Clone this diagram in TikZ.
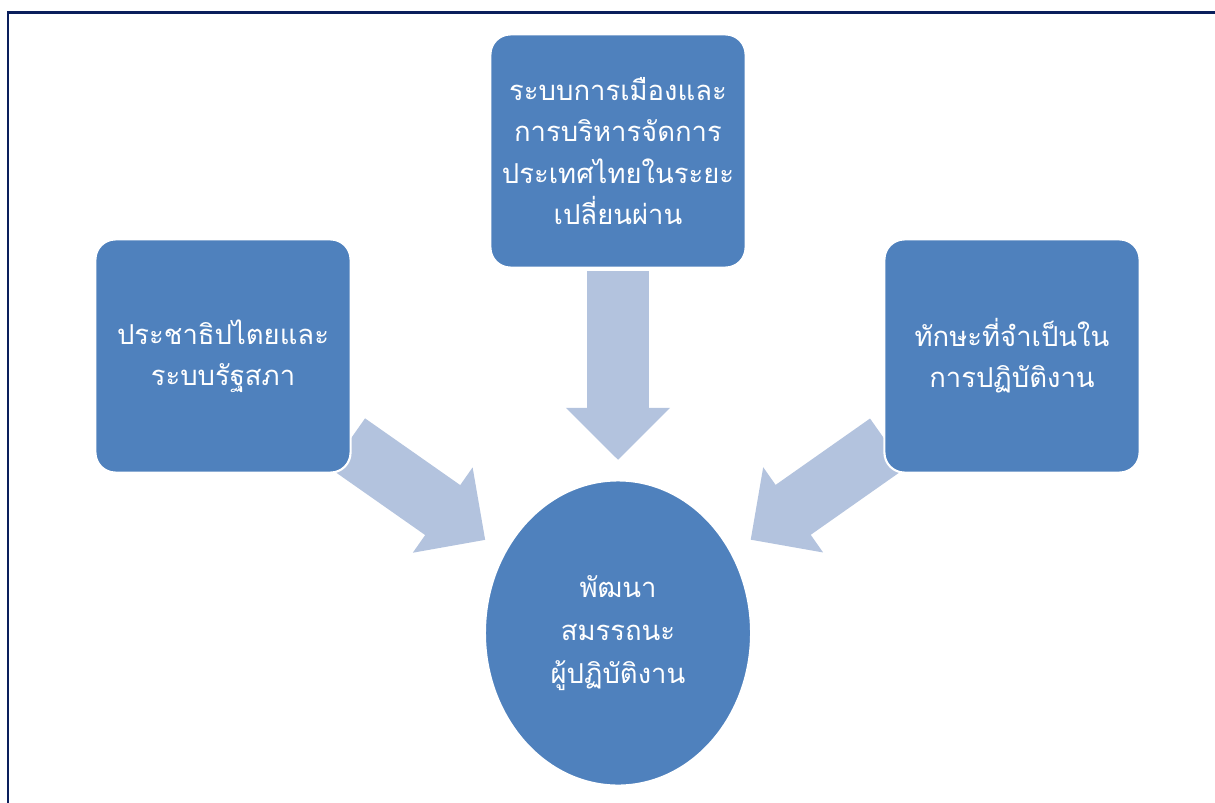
\documentclass[tikz,border=0pt]{standalone}
\usepackage{fontspec}
\newfontfamily\thaifont[Script=Thai]{Loma}
\usepackage{tikz}
\usetikzlibrary{arrows.meta,shapes.geometric,backgrounds}
\definecolor{boxblue}{HTML}{4F81BD}
\definecolor{arrowblue}{HTML}{B3C3DE}
\definecolor{framenavy}{HTML}{0A1F5C}

\begin{document}
\begin{tikzpicture}[x=0.01cm,y=-0.01cm,
   topic/.style={rectangle,rounded corners=0.2cm,draw=white,line width=0.6pt,
    fill=boxblue,text=white,minimum width=2.55cm,minimum height=2.33cm,
    align=center,inner sep=+0.1cm,
    font={\thaifont\fontsize{7.8}{11.7}\selectfont}},
   goal/.style={ellipse,draw=white,line width=0.6pt,fill=boxblue,text=white,
    minimum width=2.66cm,minimum height=3.05cm,inner sep=0pt,align=center,
    font={\thaifont\fontsize{7.8}{12.3}\selectfont}},
   blockarrow/.style={draw=arrowblue,line width=0.61cm,
    -{Triangle[width=1.01cm,length=0.52cm]}}
    ]
  \useasboundingbox (0,0) rectangle (1215,803);

  % -- frame
  \draw[framenavy,line width=0.75pt] (8,803) -- (8,12.5) -- (1215,12.5);

  % -- topics and goal
  \node[topic] at (618,151) (tbox) {ระบบการเมืองและ\\การบริหารจัดการ\\ประเทศไทยในระยะ\\เปลี่ยนผ่าน};
  \node[topic] at (223,356) (lbox) {ประชาธิปไตยและ\\ระบบรัฐสภา};
  \node[topic] at (1012,356) (rbox) {ทักษะที่จำเป็นใน\\การปฏิบัติงาน};
  \node[goal] at (618,633) (core) {พัฒนา\\สมรรถนะ\\ผู้ปฏิบัติงาน};

  % -- arrows
  \begin{scope}[on background layer]
    \draw[blockarrow,shorten <=1.2cm,shorten >=1.73cm] (tbox.center) -- (core.center);
    \draw[blockarrow,shorten <=1.52cm,shorten >=1.62cm] (lbox.center) -- (core.center);
    \draw[blockarrow,shorten <=1.52cm,shorten >=1.62cm] (rbox.center) -- (core.center);
  \end{scope}

\end{tikzpicture}
\end{document}
